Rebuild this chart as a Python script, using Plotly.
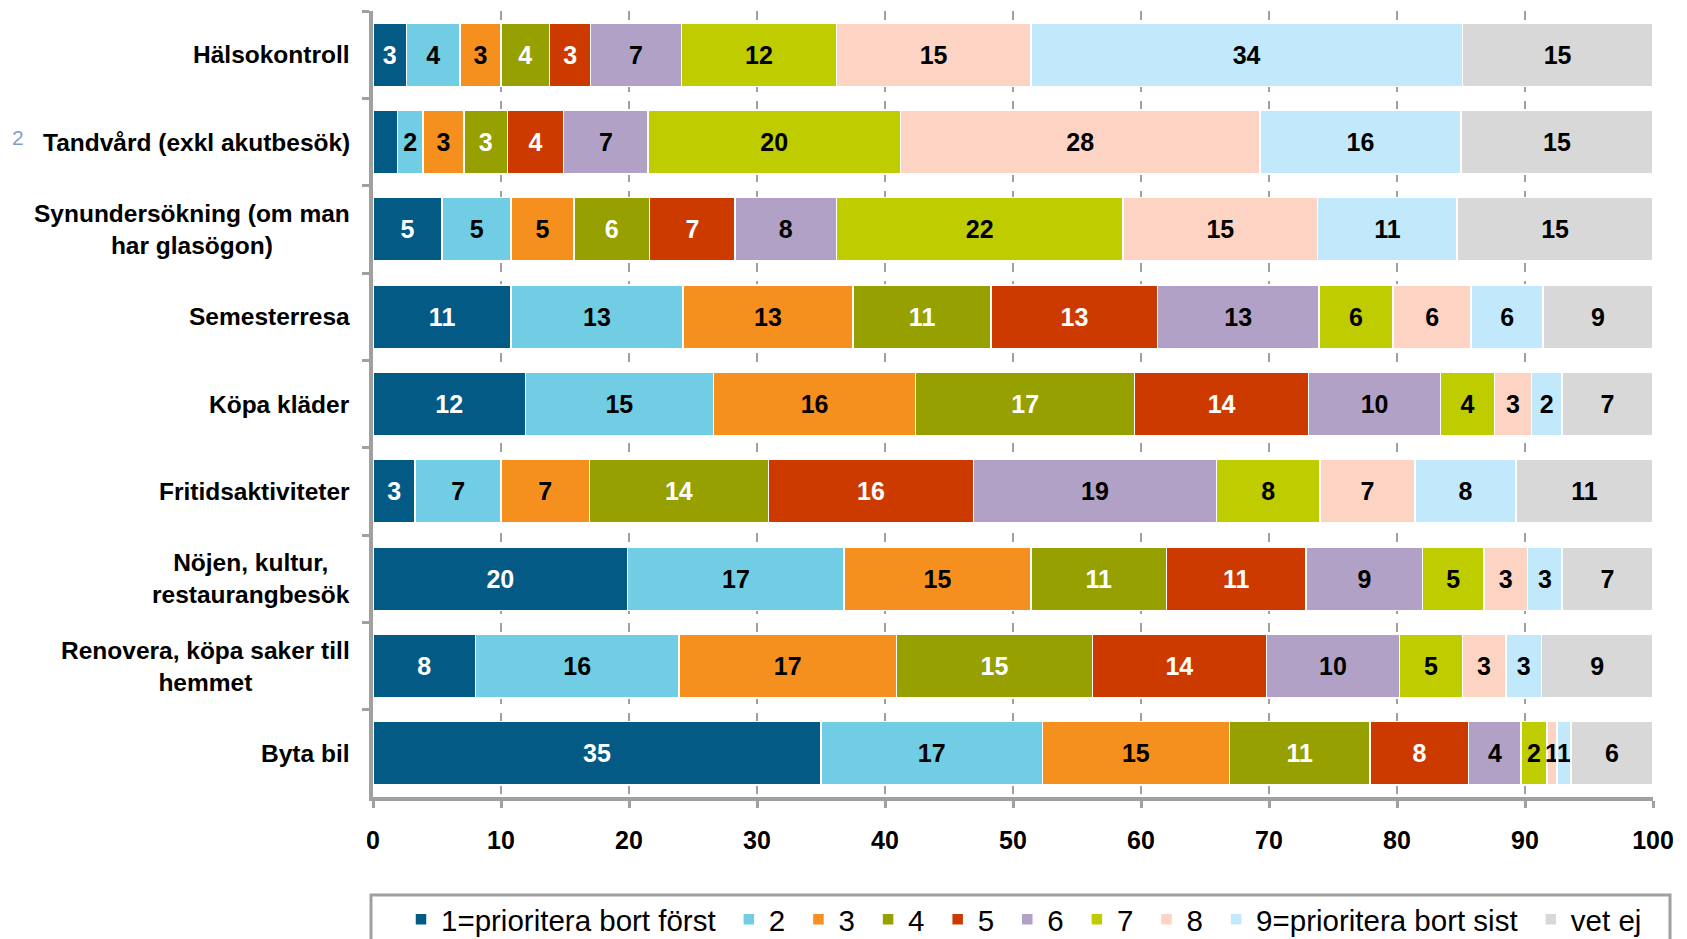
import plotly.graph_objects as go

categories = [
    "Hälsokontroll",
    "Tandvård (exkl akutbesök)",
    "Synundersökning (om man<br>har glasögon)",
    "Semesterresa",
    "Köpa kläder",
    "Fritidsaktiviteter",
    "Nöjen, kultur,<br>restaurangbesök",
    "Renovera, köpa saker till<br>hemmet",
    "Byta bil",
]

series_names = ["1=prioritera bort först", "2", "3", "4", "5", "6", "7", "8",
                "9=prioritera bort sist", "vet ej"]

s1 = [2.6, 1.9, 5.4, 10.8, 11.9, 3.3, 19.9, 8.0, 35.0]
s2 = [4.2, 2.0, 5.4, 13.4, 14.7, 6.7, 16.9, 15.9, 17.3]
s3 = [3.2, 3.2, 4.9, 13.3, 15.8, 6.9, 14.6, 17.0, 14.6]
s4 = [3.8, 3.4, 5.9, 10.8, 17.1, 14.0, 10.6, 15.3, 11.0]
s5 = [3.2, 4.4, 6.7, 13.0, 13.6, 16.0, 10.9, 13.6, 7.7]
s6 = [7.1, 6.6, 7.9, 12.6, 10.3, 19.0, 9.1, 10.4, 4.1]
s7 = [12.1, 19.7, 22.4, 5.8, 4.2, 8.1, 4.8, 4.9, 2.0]
s8 = [15.2, 28.1, 15.2, 6.1, 2.9, 7.4, 3.4, 3.4, 0.8]
s9 = [33.7, 15.7, 10.9, 5.6, 2.4, 7.9, 2.7, 2.8, 1.1]
vet_ej = [14.9, 15.0, 15.3, 8.6, 7.1, 10.7, 7.1, 8.7, 6.4]

series_values = [s1, s2, s3, s4, s5, s6, s7, s8, s9, vet_ej]

# labels not shown in the original (series index, category index)
hidden_labels = {(0, 1)}

colors = ["#035A85", "#70CDE3", "#F5901F", "#96A000", "#CC3A00",
          "#B1A1C7", "#BFCC00", "#FDD3C3", "#C2E9FB", "#D8D8D8"]
label_colors = ["white", "black", "black", "white", "white",
                "black", "black", "black", "black", "black"]

FONT = "Liberation Sans, Arial, sans-serif"
PAD = "\u00a0"

# page body has an 8px default margin: figure is sized to fill the rest
W, H = 1679, 931
PLOT_W = 1280  # 0..100 spans 1280 px

fig = go.Figure()
for i, (name, vals) in enumerate(zip(series_names, series_values)):
    texts = ["" if (i, j) in hidden_labels else f"{v:.0f}" for j, v in enumerate(vals)]
    fig.add_trace(go.Bar(
        y=categories, x=vals, name=name + PAD, orientation="h",
        marker=dict(color=colors[i], line=dict(color="white", width=1.5)),
        text=texts, textposition="inside", insidetextanchor="middle",
        textangle=0,
        textfont=dict(family=FONT, size=25, color=label_colors[i], weight="bold"),
        hoverinfo="skip",
    ))

annotations = []
for c in categories:
    annotations.append(dict(
        x=0, xref="paper", xshift=-21, xanchor="right",
        y=c, yref="y", yanchor="middle",
        text=c, showarrow=False, align="center",
        font=dict(family=FONT, size=24.5, color="black", weight="bold"),
    ))
# small stray "2" glyph left of the second label
annotations.append(dict(
    x=(18 - 373) / PLOT_W, xref="paper", xanchor="center",
    y=categories[1], yref="y", yshift=5, yanchor="middle",
    text="2", showarrow=False,
    font=dict(family=FONT, size=21, color="#7F9CCF"),
))

fig.update_layout(
    barmode="stack",
    bargap=0.27,
    width=W, height=H,
    margin=dict(l=365, r=34, t=3, b=142, autoexpand=False),
    paper_bgcolor="white", plot_bgcolor="white",
    font=dict(family=FONT, color="black"),
    uniformtext=dict(minsize=25, mode="show"),
    annotations=annotations,
    shapes=[dict(
        type="rect", xref="paper", yref="paper",
        x0=-2 / PLOT_W, x1=(1670 - 373) / PLOT_W,
        y0=-0.1247, y1=-0.25,
        line=dict(color="#A0A0A0", width=3), fillcolor="rgba(0,0,0,0)",
        layer="above",
    )],
    showlegend=True,
    legend=dict(
        orientation="h", x=(1655 - 373) / PLOT_W, xanchor="right",
        y=-0.123, yanchor="top",
        borderwidth=0, bgcolor="rgba(0,0,0,0)",
        font=dict(family=FONT, size=29.5, color="black"),
        traceorder="normal", itemwidth=30,
    ),
    xaxis=dict(
        range=[0, 100], dtick=10, tick0=0,
        showgrid=True, gridcolor="#A0A0A0", gridwidth=2, griddash="dash",
        showline=True, linecolor="#A0A0A0", linewidth=4,
        ticks="outside", ticklen=7, tickwidth=3, tickcolor="#A0A0A0",
        ticklabelstandoff=11, automargin=False,
        tickfont=dict(family=FONT, size=25, color="black", weight="bold"),
        zeroline=False, fixedrange=True,
    ),
    yaxis=dict(
        autorange="reversed",
        showticklabels=False, automargin=False,
        showline=True, linecolor="#A0A0A0", linewidth=4,
        ticks="outside", ticklen=7, tickwidth=3, tickcolor="#A0A0A0",
        tickson="boundaries", showgrid=False, fixedrange=True,
    ),
)

fig.write_html("out.html")
